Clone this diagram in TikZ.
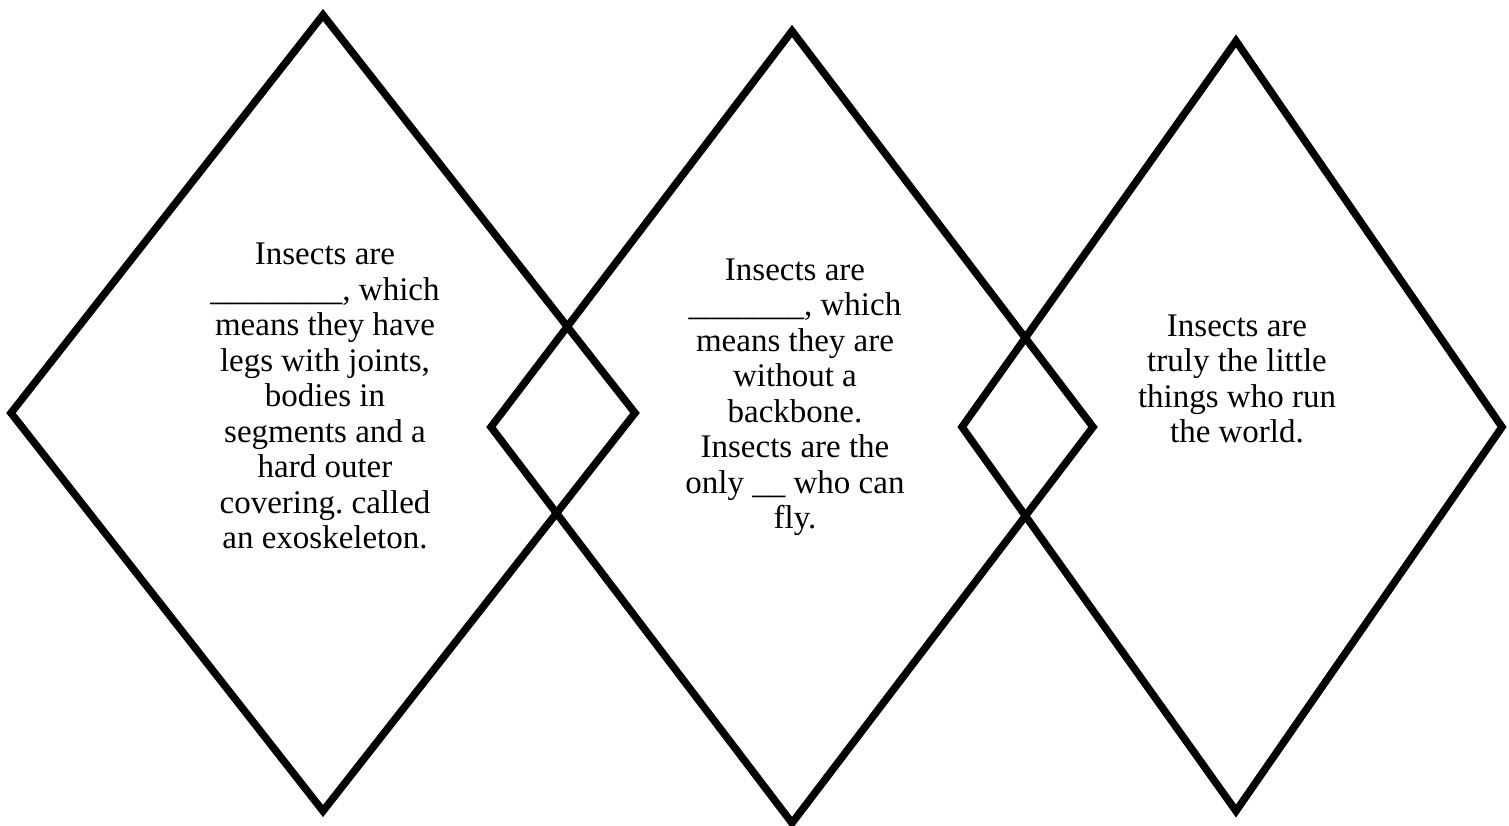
\documentclass[tikz,border=0pt]{standalone}
\usepackage{fontspec}
\setmainfont{Liberation Serif}
\begin{document}
\begin{tikzpicture}[x=1pt,y=-1pt,
  diam/.style={draw=black,line width=7.5pt,line join=miter},
  txt/.style={align=center,inner sep=0pt,font=\fontsize{33}{35.5}\selectfont\frenchspacing}]
\useasboundingbox (0,0) rectangle (1509,825);
\draw[diam] (323,15) -- (635,413) -- (323,811) -- (11,413) -- cycle;
\draw[diam] (792,31) -- (1093,427) -- (792,823) -- (491,427) -- cycle;
\draw[diam] (1236,41) -- (1502,427) -- (1236,811) -- (962,427) -- cycle;
\node[txt] (t1) at (325,396) {Insects are\\\_\_\_\_\_\_\_\_, which\\means they have\\legs with joints,\\bodies in\\segments and a\\hard outer\\covering. called\\an exoskeleton.};
\node[txt] (t2) at (795,397) {Insects are\\\_\_\_\_\_\_\_, which\\means they are\\without a\\backbone.\\Insects are the\\only \_\_ who can\\fly.};
\node[txt] (t3) at (1237,379) {Insects are\\truly the little\\things who run\\the world.};
\end{tikzpicture}
\end{document}
